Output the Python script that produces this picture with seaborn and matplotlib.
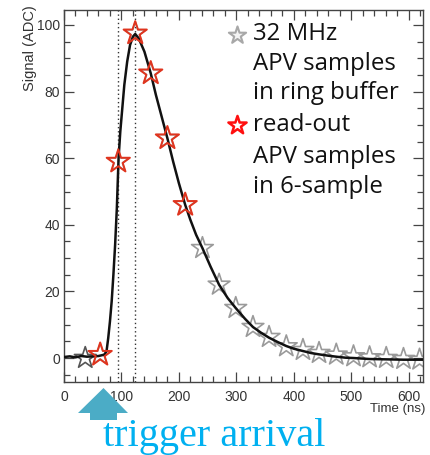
import numpy as np
import pandas as pd
import matplotlib
matplotlib.use("Agg")
import matplotlib.pyplot as plt
from matplotlib.ticker import MultipleLocator
from matplotlib.patches import Polygon
import seaborn as sns

# ---- data ----
curve_t = [0, 10, 20, 30, 40, 50, 60, 65, 70, 74, 77, 80, 83, 86, 89, 92, 95, 98, 101, 105,
           110, 115, 120, 124, 130, 140, 151, 160, 170, 180, 190, 200, 211, 220, 230, 241,
           255, 270, 285, 299, 315, 329, 343, 357, 372, 387, 400, 416, 430, 444, 460, 474,
           490, 504, 532, 561, 591, 625]
curve_v = [0.3, 0.5, 0.2, 0.6, 0.4, 0.5, 0.6, 0.8, 1.0, 2, 6, 11, 17, 25, 34, 45, 60, 68, 74, 82,
           89, 94, 96.5, 97.3, 96, 92, 85.5, 79, 72.5, 66, 59, 52.5, 46, 41.5, 37, 33,
           27.5, 22, 18, 15, 11.8, 9.3, 7.6, 6.1, 4.8, 3.6, 2.8, 2.1, 1.5, 1.1, 0.7, 0.4,
           0.1, 0.0, -0.3, -0.4, -0.5, -0.5]

sample_t = [37, 63, 94.5, 124, 151, 180, 211, 241, 270, 299, 329, 357, 387, 416, 444, 474,
            504, 532, 561, 591, 619]
sample_v = [0, 1, 59, 97.5, 85.5, 66, 46, 33, 22, 15, 9.3, 6.3, 3.5, 2.4, 1.5, 1.0,
            0.5, 0.2, 0, -0.3, -0.5]
readout_idx = [1, 2, 3, 4, 5, 6]
window_lines = [94, 123]

legend_lines_1 = ["32 MHz", "APV samples", "in ring buffer"]
legend_lines_2 = ["read-out", "APV samples", "in 6-sample"]

# ---- figure ----
sns.set_theme(style="ticks")
plt.rcParams["font.family"] = ["Liberation Sans", "DejaVu Sans"]

fig = plt.figure(figsize=(4.3, 4.55), dpi=100)
ax = fig.add_axes([64 / 430, 1 - 382 / 455, (423 - 64) / 430, (382 - 10) / 455])

curve = pd.DataFrame({"t": curve_t, "v": curve_v})
samples = pd.DataFrame({"t": sample_t, "v": sample_v})
readout = samples.iloc[readout_idx]

for xv in window_lines:
    ax.axvline(xv, color="#333333", lw=1.0, ls=(0, (1, 2)), zorder=1)

# gray ring-buffer samples
sns.scatterplot(data=samples.iloc[1:], x="t", y="v", ax=ax, marker="*", s=270,
                facecolor="none", edgecolor="#9a9a9a", linewidth=1.2, zorder=2, legend=False)
sns.scatterplot(data=samples.iloc[:1], x="t", y="v", ax=ax, marker="*", s=270,
                facecolor="none", edgecolor="#555555", linewidth=1.2, zorder=2, legend=False)
sns.lineplot(data=curve, x="t", y="v", ax=ax, color="#111111", lw=1.8, zorder=3,
             estimator=None, sort=False)
sns.scatterplot(data=readout, x="t", y="v", ax=ax, marker="*", s=310,
                facecolor="none", edgecolor="#e0341e", linewidth=1.4, zorder=4, legend=False)

ax.set_xlim(0, 625)
ax.set_ylim(-7.2, 104.5)
ax.xaxis.set_major_locator(MultipleLocator(100))
ax.xaxis.set_minor_locator(MultipleLocator(20))
ax.yaxis.set_major_locator(MultipleLocator(20))
ax.yaxis.set_minor_locator(MultipleLocator(5))
ax.tick_params(which="both", direction="in", top=True, right=True, color="#444444",
               labelsize=10, labelcolor="#333333", width=0.9)
ax.tick_params(which="major", length=7)
ax.tick_params(which="minor", length=4)
ax.tick_params(axis="x", pad=6)
ax.tick_params(axis="y", pad=3)
for sp in ax.spines.values():
    sp.set_color("#444444")
    sp.set_linewidth(1.0)
ax.set_xlabel("")
ax.set_ylabel("")

fig.text(30 / 430, 1 - 5 / 455, "Signal (ADC)", rotation=90, ha="center", va="top",
         fontsize=10.5, color="#333333")
fig.text(425 / 430, 1 - 409 / 455, "Time (ns)", ha="right", va="center",
         fontsize=9.5, color="#333333")

# legend-like annotations
lx_star, lx_text = (237 - 64) / 359, (253 - 64) / 359
ys1 = [0.935, 0.855, 0.777]
ys2 = [0.691, 0.605, 0.524]
ax.scatter([lx_star], [(382 - 35) / 372], transform=ax.transAxes, marker="*", s=170,
           facecolor="#f4f4f4", edgecolor="#a8a8a8", linewidth=1.5, zorder=5, clip_on=False)
ax.scatter([lx_star], [(382 - 125) / 372], transform=ax.transAxes, marker="*", s=190,
           facecolor="white", edgecolor="#ff1010", linewidth=1.8, zorder=5, clip_on=False)
for yy, txt in zip(ys1 + ys2, legend_lines_1 + legend_lines_2):
    ax.text(lx_text, yy, txt, transform=ax.transAxes, ha="left", va="center",
            fontsize=17.3, color="#111111", family=["Open Sans", "DejaVu Sans"])

# trigger arrow and label
pts_px = [(78, 413), (103.5, 388), (128, 413), (117, 413), (117, 420), (90, 420), (90, 413)]
pts = [(x / 430, 1 - y / 455) for x, y in pts_px]
fig.patches.append(Polygon(pts, closed=True, transform=fig.transFigure,
                           facecolor="#4bacc6", edgecolor="none", zorder=0))
fig.text(214.5 / 430, 1 - 446 / 455, "trigger arrival", ha="center", va="baseline",
         fontsize=29, color="#00b0f0", family=["Liberation Serif", "DejaVu Serif"])

fig.savefig("out.png", dpi=100)
